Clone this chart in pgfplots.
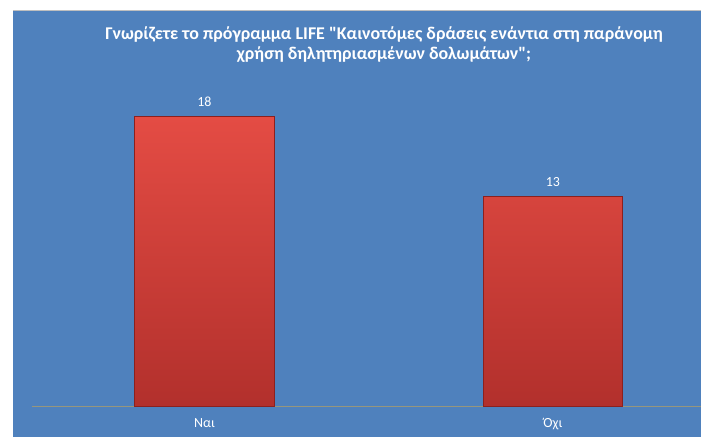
\documentclass[border=0pt]{standalone}
\usepackage{pgfplots}
\pgfplotsset{compat=1.18}
\usepackage{fontspec}
\setmainfont{Carlito}
\definecolor{bg}{RGB}{79,129,189}
\definecolor{bartop}{RGB}{228,76,68}
\definecolor{barmid}{RGB}{214,62,56}
\definecolor{barbot}{RGB}{178,48,44}
\definecolor{baredge}{RGB}{140,32,30}
\definecolor{baseline}{RGB}{150,150,125}
\begin{document}
\begin{tikzpicture}[x=1bp,y=1bp]
\useasboundingbox (0,0) rectangle (701,437);
\fill[white] (0,0) rectangle (701,437);
\fill[bg] (13,0) rectangle (701,427);
\draw[gray!50, line width=0.8bp] (13,427) -- (701,427);
\begin{axis}[
  at={(32bp,31bp)}, anchor=south west,
  scale only axis, width=669bp, height=322bp,
  xmin=-0.495, xmax=1.425, ymin=0, ymax=20,
  axis x line*=bottom, axis y line=none,
  x axis line style={-, draw=baseline, line width=0.8bp},
  xtick={0,1}, xticklabels={Ναι,Όχι},
  xtick style={draw=none}, ytick=\empty,
  xticklabel style={anchor=base, yshift=-22bp, text=white, font=\fontsize{14}{16}\selectfont},
  /pgf/number format/assume math mode=true,
  clip=false,
]
\addplot[ybar, bar width=0.4, draw=baredge, line width=0.6bp,
  top color=bartop, middle color=barmid, bottom color=barbot,
  nodes near coords,
  every node near coord/.append style={anchor=base, yshift=10bp, text=white, font=\fontsize{14}{16}\selectfont}]
  coordinates {(0,18) (1,13)};
\end{axis}
\node[align=center, text=white, font=\bfseries\fontsize{18}{20}\selectfont] at (384,392)
  {Γνωρίζετε το πρόγραμμα LIFE \textquotedbl Καινοτόμες δράσεις ενάντια στη παράνομη\\χρήση δηλητηριασμένων δολωμάτων\textquotedbl;};
\end{tikzpicture}
\end{document}
